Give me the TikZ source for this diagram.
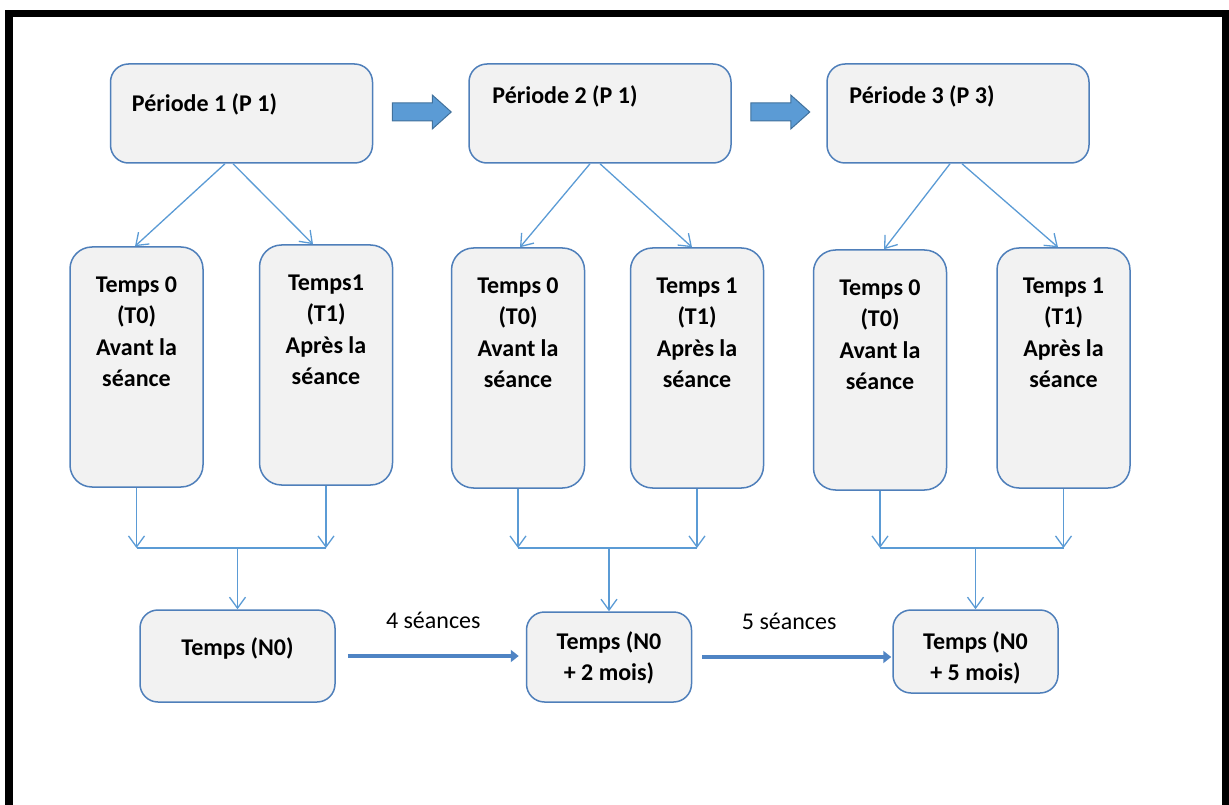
\documentclass[tikz,border=0pt]{standalone}
\usepackage{fontspec}
\setmainfont{Carlito}
\usetikzlibrary{positioning, arrows.meta}

\definecolor{boxfill}{HTML}{F2F2F2}
\definecolor{boxline}{HTML}{4F7FBA}
\definecolor{linkblue}{HTML}{5B9BD5}
\definecolor{arrowline}{HTML}{41719C}
\definecolor{suiteblue}{HTML}{4F84C4}

\tikzset{
  box/.style = {draw = boxline, fill = boxfill, line width = 1.5pt,
    rounded corners = 18pt, inner sep = 0pt},
  periode/.style = {box, minimum width = 262pt, minimum height = 99pt},
  temps/.style = {box, rounded corners = 22pt, minimum width = 133pt,
    minimum height = 240pt},
  bilan/.style = {box, minimum width = 165pt, minimum height = 90pt},
  txt/.style = {font = \fontsize{24}{31.5}\selectfont\bfseries, align = center,
    inner sep = 0pt},
  lab/.style = {font = \fontsize{24}{29}\selectfont, inner sep = 0pt},
  link/.style = {draw = linkblue, line width = 1.3pt},
  linkarrow/.style = {link, -{Straight Barb[length = 11pt, width = 16pt]}},
  suite/.style = {draw = suiteblue, line width = 4.5pt,
    -{Triangle[length = 8pt, width = 12pt]}},
  bloc/.style = {draw = arrowline, fill = linkblue, line width = 1pt}
}

\begin{document}
\begin{tikzpicture}[x = 1pt, y = -1pt]
\useasboundingbox (0,0) rectangle (1229,805);
% cadre
\draw[line width = 7.5pt, miter limit = 10] (9,805) -- (9,13.5) -- (1226,13.5) -- (1226,805);

% periodes
\node[periode] (p1) at (241.5,113.5) {};
\node[periode] (p2) at (600,113.5) {};
\node[periode] (p3) at (958,113.5) {};
\node[txt, right = 22pt of p1.west, yshift = 9pt] {Période 1 (P 1)};
\node[txt, right = 24pt of p2.west, yshift = 17pt] {Période 2 (P 1)};
\node[txt, right = 23pt of p3.west, yshift = 17pt] {Période 3 (P 3)};

\foreach \a in {p1, p2}
  \draw[bloc] ([shift = {(19,-10.5)}]\a.east) -- ++(40,0) -- ++(0,-8) -- ++(19,17)
    -- ++(-19,17) -- ++(0,-8) -- ++(-40,0) -- cycle;

% temps
\node[temps] (t0a) at (136.5,367) {};
\node[temps] (t1a) at (326,365) {};
\node[temps] (t0b) at (518,368) {};
\node[temps] (t1b) at (697,368) {};
\node[temps] (t0c) at (880,370) {};
\node[temps] (t1c) at (1063.5,368) {};
\node[txt, below = 30pt of t0a.north] {Temps 0\\(T0)\\Avant la\\séance};
\node[txt, below = 30pt of t1a.north] {Temps1\\(T1)\\Après la\\séance};
\node[txt, below = 30pt of t0b.north] {Temps 0\\(T0)\\Avant la\\séance};
\node[txt, below = 30pt of t1b.north] {Temps 1\\(T1)\\Après la\\séance};
\node[txt, below = 30pt of t0c.north] {Temps 0\\(T0)\\Avant la\\séance};
\node[txt, below = 30pt of t1c.north] {Temps 1\\(T1)\\Après la\\séance};

\draw[linkarrow] ([xshift = -16.5pt]p1.south) -- ([xshift = -1.5pt]t0a.north);
\draw[linkarrow] ([xshift = -8.5pt]p1.south) -- ([xshift = -13pt]t1a.north);
\draw[linkarrow] ([xshift = -10pt]p2.south) -- ([xshift = 2pt]t0b.north);
\draw[linkarrow] (p2.south) -- ([xshift = -5pt]t1b.north);
\draw[linkarrow] ([xshift = -8pt]p3.south) -- ([xshift = 4pt]t0c.north);
\draw[linkarrow] ([xshift = 4pt]p3.south) -- ([xshift = -5.5pt]t1c.north);

% bilans
\node[bilan, minimum width = 195pt, minimum height = 92pt] (n0a) at (237.5,656) {};
\node[bilan] (n0b) at (609,657) {};
\node[bilan, minimum height = 83pt] (n0c) at (975.5,651.5) {};
\node[txt, below = 28pt of n0a.north] {Temps (N0)};
\node[txt, below = 20pt of n0b.north] {Temps (N0\\+ 2 mois)};
\node[txt, below = 22pt of n0c.north] {Temps (N0\\+ 5 mois)};

\foreach \g/\a/\b/\n in {1/t0a/t1a/n0a, 2/t0b/t1b/n0b, 3/t0c/t1c/n0c} {
  \coordinate (m\g) at (\n.north |- 0,548);
  \draw[linkarrow] (\a.south) -- (\a.south |- m\g);
  \draw[linkarrow] (\b.south) -- (\b.south |- m\g);
  \draw[link] (\a.south |- m\g) -- (\b.south |- m\g);
  \draw[linkarrow] (m\g) -- (\n.north);
}

\draw[suite] ([xshift = 12pt]n0a.east) -- node[lab, above = 25pt] {4 séances}
  ([xshift = -7pt]n0b.west |- n0a.east);
\draw[suite] ([xshift = 10pt]n0b.east) -- node[lab, above = 25pt, pos = 0.46] {5 séances}
  ([xshift = -1pt]n0c.west |- n0b.east);
\end{tikzpicture}
\end{document}
